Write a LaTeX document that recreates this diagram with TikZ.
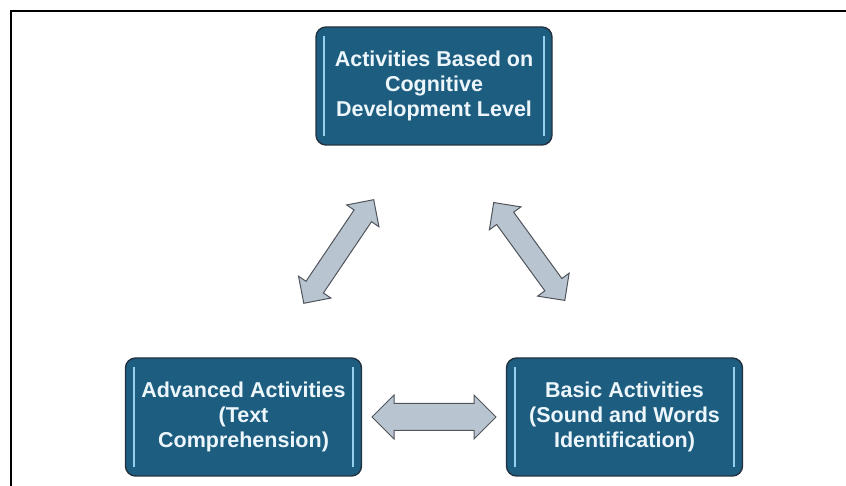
\documentclass[tikz,border=0pt]{standalone}
\usepackage{fontspec}
\setsansfont{Liberation Sans}
\usepackage{tikz}
\usetikzlibrary{shapes.arrows,calc}

\definecolor{boxfill}{RGB}{29,93,128}
\definecolor{boxedge}{RGB}{35,50,64}
\definecolor{boxglow}{RGB}{150,208,238}
\definecolor{boxtext}{RGB}{236,246,251}
\definecolor{arrowfill}{RGB}{184,196,207}
\definecolor{arrowedge}{RGB}{80,85,92}

\begin{document}
\begin{tikzpicture}[x=1pt,y=1pt,
                    main node/.style={rectangle,rounded corners=10pt,draw=boxedge,line width=1.4pt,fill=boxfill,
                      text=boxtext,font=\sffamily\bfseries\fontsize{21.5}{25}\selectfont,align=center,
                      minimum width=236pt,minimum height=118pt,inner sep=0pt},
                    link/.style={double arrow,draw=arrowedge,line width=1pt,fill=arrowfill,inner xsep=0pt,
                      double arrow tip angle=90}]

  \useasboundingbox (0,0) rectangle (846,486);
  \draw[line width=1.2pt] (10,475) -- (846,475);
  \draw[line width=1.2pt] (11,475) -- (11,0);

  \node[main node] (top) at (434,400) {Activities Based on\\Cognitive\\Development Level};
  \node[main node] (adv) at (243.5,69) {Advanced Activities\\(Text\\Comprehension)};
  \node[main node] (basic) at (624.5,69) {Basic Activities\\(Sound and Words\\Identification)};

  % light inner edges
  \foreach \n in {top,adv,basic}{
    \draw[boxglow,line width=1.8pt] ($(\n.north west)+(9,-10)$) -- ($(\n.south west)+(9,10)$);
    \draw[boxglow,line width=1.8pt] ($(\n.north east)+(-9,-10)$) -- ($(\n.south east)+(-9,10)$);
  }

  \node[link,minimum height=125pt,inner ysep=10pt,double arrow head extend=9pt,rotate=56] (l1)
    at ($(top.south west)!0.5!(adv.north east)$) {};
  \node[link,minimum height=121pt,inner ysep=10pt,double arrow head extend=9pt,rotate=-54] (l2)
    at ($(top.south east)!0.5!(basic.north west)$) {};
  \node[link,minimum height=124pt,inner ysep=13pt,double arrow head extend=8.5pt] (l3)
    at ($(adv.east)!0.5!(basic.west)$) {};
\end{tikzpicture}
\end{document}
